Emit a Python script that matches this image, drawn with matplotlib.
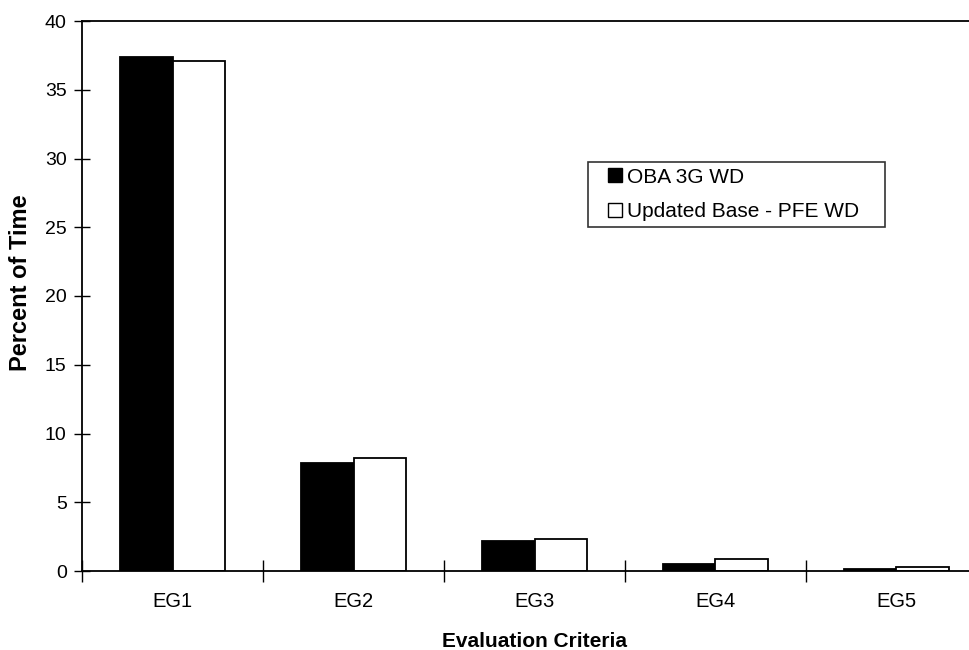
import matplotlib
matplotlib.use("Agg")
import matplotlib.pyplot as plt
from matplotlib.lines import Line2D
import numpy as np

plt.rcParams['font.family'] = ['Liberation Sans', 'DejaVu Sans']

categories = ["EG1", "EG2", "EG3", "EG4", "EG5"]
oba_3g_wd = [37.35, 7.85, 2.2, 0.5, 0.15]
updated_base_pfe_wd = [37.1, 8.25, 2.35, 0.85, 0.3]
series_names = ["OBA 3G WD", "Updated Base - PFE WD"]
yticks = [0, 5, 10, 15, 20, 25, 30, 35, 40]

W, H = 970, 650
fig = plt.figure(figsize=(W / 100, H / 100), dpi=100)
ax_left, ax_bottom, ax_w, ax_h = 82, 571, 905, 550
ax = fig.add_axes([ax_left / W, 1 - ax_bottom / H, ax_w / W, ax_h / H])

x = np.arange(len(categories))
w = 0.29
ax.bar(x - w / 2, oba_3g_wd, w, color='black', edgecolor='black', linewidth=1.3)
ax.bar(x + w / 2, updated_base_pfe_wd, w, color='white', edgecolor='black', linewidth=1.3)

ax.set_xlim(-0.5, len(categories) - 0.5)
ax.set_ylim(0, 40)
ax.set_yticks(yticks)
ax.set_yticklabels([str(t) for t in yticks], fontsize=14)
ax.set_xticks(x)
ax.set_xticklabels(categories, fontsize=14.5)
ax.tick_params(axis='x', which='major', length=0, pad=15)
ax.set_xticks(np.arange(len(categories)) - 0.5, minor=True)
ax.tick_params(axis='x', which='minor', direction='inout', length=16, width=1)
ax.tick_params(axis='y', direction='inout', length=12, width=1, pad=5)

for s in ['left', 'bottom', 'top']:
    ax.spines[s].set_linewidth(1.3)
ax.spines['right'].set_visible(False)

ax.set_ylabel("Percent of Time", fontsize=17, fontweight='bold')
ax.yaxis.set_label_coords(-0.055, 0.525)
ax.set_xlabel("Evaluation Criteria", fontsize=15, fontweight='bold', labelpad=15)

handles = [
    Line2D([], [], linestyle='none', marker='s', markersize=10.5,
           markerfacecolor='black', markeredgecolor='black', markeredgewidth=1.0),
    Line2D([], [], linestyle='none', marker='s', markersize=10.5,
           markerfacecolor='white', markeredgecolor='black', markeredgewidth=1.0),
]
lx0, ly0, lx1, ly1 = 588, 162, 885, 227
bbox = ((lx0 - ax_left) / ax_w, (ax_bottom - ly1) / ax_h,
        (lx1 - lx0) / ax_w, (ly1 - ly0) / ax_h)
leg = ax.legend(handles, series_names, loc='upper left', bbox_to_anchor=bbox,
                mode='expand', borderaxespad=0, fontsize=15,
                frameon=True, fancybox=False, edgecolor='black',
                handlelength=2.1, handletextpad=-0.5, borderpad=0.27,
                labelspacing=0.75)
leg.get_frame().set_linewidth(1.2)

fig.savefig("out.png", dpi=100)
